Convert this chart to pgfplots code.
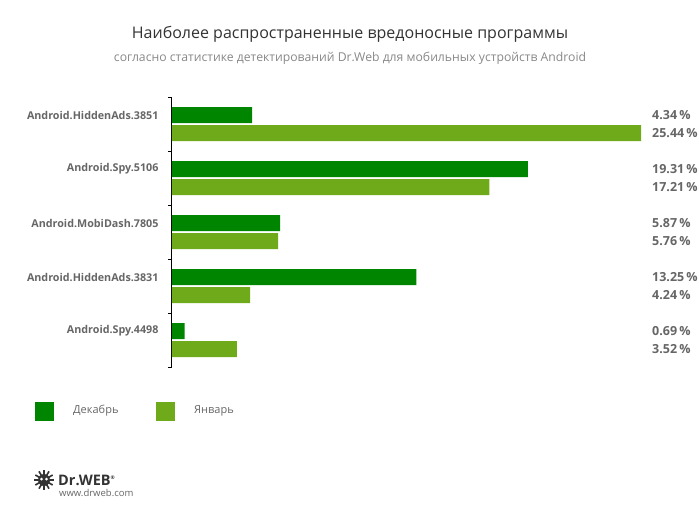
\documentclass[border=0pt]{standalone}
\usepackage{fontspec}
\setmainfont{Open Sans}
\usepackage{pgfplots}
\pgfplotsset{compat=1.18}
\definecolor{dec}{HTML}{008500}
\definecolor{jan}{HTML}{6FAA1B}
\definecolor{lab}{HTML}{666666}
\definecolor{ttl}{HTML}{333333}
\definecolor{sub}{HTML}{888888}
\begin{document}
\begin{tikzpicture}
\path[use as bounding box] (0pt,0pt) rectangle (699pt,-515pt);
\node[text=ttl,font=\fontsize{16}{18}\selectfont] at (350pt,-34pt) {Наиболее распространенные вредоносные программы};
\node[text=sub,font=\fontsize{12.2}{14}\selectfont] at (350pt,-58pt) {согласно статистике детектирований Dr.Web для мобильных устройств Android};
\begin{axis}[
  at={(172pt,-367pt)}, anchor=south west,
  scale only axis, width=469pt, height=270pt,
  xmin=0, xmax=25.44, ymin=-0.5, ymax=4.5,
  axis x line=none, axis y line*=left,
  y axis line style={line width=1pt,-},
  xbar, bar width=16pt,
  ytick={0,1,2,3,4},
  yticklabels={Android.Spy.4498,Android.HiddenAds.3831,Android.MobiDash.7805,Android.Spy.5106,Android.HiddenAds.3851},
  major tick length=0pt,
  minor ytick={-0.5,0.5,1.5,2.5,3.5,4.5},
  minor tick length=4pt, tick align=outside,
  minor tick style={line width=1pt,black},
  yticklabel style={font=\fontsize{10.75}{12}\selectfont\bfseries, text=lab, yshift=9pt, xshift=-10pt},
  clip=false,
]
\addplot[draw=none, fill=dec, bar shift=9pt] coordinates {(4.34,4) (19.31,3) (5.87,2) (13.25,1) (0.69,0)};
\addplot[draw=none, fill=jan, bar shift=-9pt] coordinates {(25.44,4) (17.21,3) (5.76,2) (4.24,1) (3.52,0)};
\begin{scope}[every node/.style={anchor=west, text=lab, font=\fontsize{12.5}{14}\selectfont\bfseries, inner sep=0pt}]
\node[xshift=11pt,yshift=9pt] at (axis cs:25.44,4) {4.34\,\%};
\node[xshift=11pt,yshift=-9pt] at (axis cs:25.44,4) {25.44\,\%};
\node[xshift=11pt,yshift=9pt] at (axis cs:25.44,3) {19.31\,\%};
\node[xshift=11pt,yshift=-9pt] at (axis cs:25.44,3) {17.21\,\%};
\node[xshift=11pt,yshift=9pt] at (axis cs:25.44,2) {5.87\,\%};
\node[xshift=11pt,yshift=-9pt] at (axis cs:25.44,2) {5.76\,\%};
\node[xshift=11pt,yshift=9pt] at (axis cs:25.44,1) {13.25\,\%};
\node[xshift=11pt,yshift=-9pt] at (axis cs:25.44,1) {4.24\,\%};
\node[xshift=11pt,yshift=9pt] at (axis cs:25.44,0) {0.69\,\%};
\node[xshift=11pt,yshift=-9pt] at (axis cs:25.44,0) {3.52\,\%};
\end{scope}
\end{axis}
% legend
\fill[dec] (35pt,-402pt) rectangle (54pt,-421pt);
\node[anchor=west,text=lab,font=\fontsize{11}{13}\selectfont,inner sep=0pt] at (73pt,-411pt) {Декабрь};
\fill[jan] (156pt,-402pt) rectangle (175pt,-421pt);
\node[anchor=west,text=lab,font=\fontsize{11}{13}\selectfont,inner sep=0pt] at (194pt,-411pt) {Январь};
% logo
\begin{scope}[shift={(44pt,-480pt)}]
\foreach \a in {0,30,...,330} \draw[line width=1.6pt,ttl] (\a:5pt)--(\a:10pt);
\fill[ttl] (0,0) circle (6pt);
\fill[white] (-2.5pt,1pt) circle (1.5pt) (2.5pt,1pt) circle (1.5pt);
\end{scope}
\node[anchor=west,inner sep=0pt,text=ttl,font=\fontsize{14.5}{16}\selectfont\bfseries] at (58pt,-480pt) {Dr.WEB\textsuperscript{\tiny ®}};
\node[anchor=west,inner sep=0pt,text=lab,font=\fontsize{9.5}{11}\selectfont] at (59pt,-493pt) {www.drweb.com};
\end{tikzpicture}
\end{document}
